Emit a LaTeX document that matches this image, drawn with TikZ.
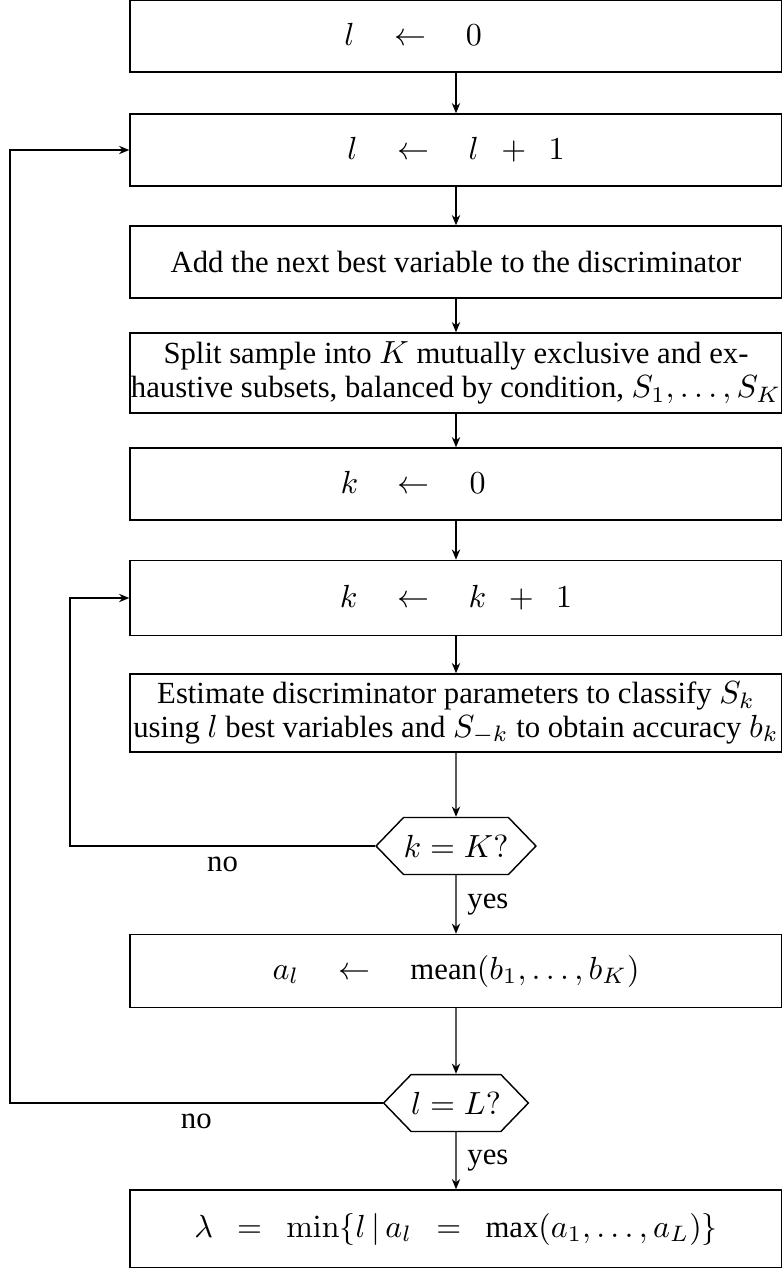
\documentclass[tikz,border=0pt]{standalone}
\usepackage{amsmath,amssymb}
\usepackage[no-math]{fontspec}
\setmainfont{Liberation Serif}
\usetikzlibrary{arrows.meta,positioning,calc,shapes.symbols}

\begin{document}
\begin{tikzpicture}[
  x=0.3125pt,y=-0.3125pt,font=\fontsize{9.6}{10.5}\selectfont,
  box/.style={draw=black,line width=0.45pt,minimum width=203.75pt,minimum height=22.5pt,
              align=center,inner xsep=0pt,inner ysep=1pt},
  test/.style={draw=black,line width=0.45pt,signal,signal to=west and east,
               signal pointer angle=92,minimum width=47.5pt,minimum height=17.8pt,inner sep=0pt},
  ar/.style={-{Stealth[length=3.2pt,width=2.6pt]},black,line width=0.45pt}
]
\useasboundingbox (0,0) rectangle (782,1268);

% outer loop over l
\node[box] (linit) at (456,36)  {$l \quad\leftarrow\quad 0\phantom{{}\enspace+\enspace 1}$};
\node[box] (linc)  at (456,150) {$l \quad\leftarrow\quad l \enspace+\enspace 1$};
\node[box] (addv)  at (456,262) {Add the next best variable to the discriminator};
\node[box,minimum height=25pt] (split) at (456,373)
     {Split sample into $K$ mutually exclusive and ex-\\
      haustive subsets, balanced by condition, $S_1,\ldots,S_K$};

% inner loop over k
\node[box] (kinit) at (456,484) {$k \quad\leftarrow\quad 0\phantom{{}\enspace+\enspace 1}$};
\node[box,minimum height=23.5pt] (kinc) at (456,598) {$k \quad\leftarrow\quad k \enspace+\enspace 1$};
\node[box,minimum height=24.4pt] (estim) at (456,713)
     {Estimate discriminator parameters to classify $S_k$\\
      using $l$ best variables and $S_{-k}$ to obtain accuracy $b_k$};
\node[test] (kchk) at (456,846) {$k = K?$};

\node[box,minimum height=22.8pt] (mean) at (456,971)
     {$a_l \quad\leftarrow\quad \text{mean}(b_1,\ldots,b_K)$};
\node[test,minimum width=43.75pt] (lchk) at (456,1103) {$l = L?$};
\node[box,minimum height=24.4pt] (lam) at (456,1229)
     {$\lambda \enspace=\enspace \min\{l \,|\, a_l \enspace=\enspace \text{max}(a_1,\ldots,a_L)\}$};

\coordinate (kloop) at (70,0);
\coordinate (lloop) at (10,0);

\draw[ar] (linit) -- (linc);
\draw[ar] (linc)  -- (addv);
\draw[ar] (addv)  -- (split);
\draw[ar] (split) -- (kinit);
\draw[ar] (kinit) -- (kinc);
\draw[ar] (kinc)  -- (estim);
\draw[ar] (estim) -- (kchk);
\draw[ar] (kchk)  -- node[right]{yes} (mean);
\draw[ar] (mean)  -- (lchk);
\draw[ar] (lchk)  -- node[right]{yes} (lam);

\draw[ar] (kchk.west) -- node[below]{no} (kchk.west -| kloop) |- (kinc.west);
\draw[ar] (lchk.west) -- node[below]{no} (lchk.west -| lloop) |- (linc.west);

\end{tikzpicture}
\end{document}
